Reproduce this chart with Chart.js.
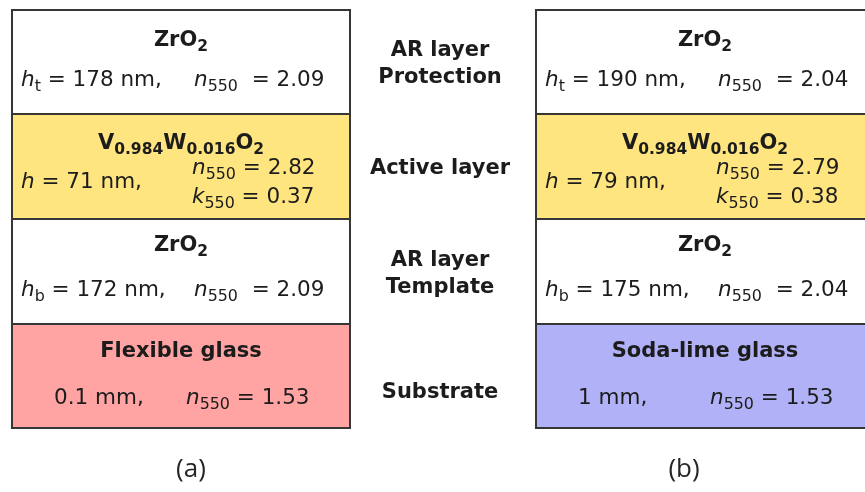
<!DOCTYPE html>
<html>
<head>
<meta charset="utf-8">
<script src="https://cdn.jsdelivr.net/npm/chart.js@4.4.1/dist/chart.umd.min.js"></script>
<style>
  html, body { margin: 0; padding: 0; background: #ffffff; }
  #wrap { width: 865px; height: 492px; position: relative; }
</style>
</head>
<body>
<div id="wrap"><canvas id="stack"></canvas></div>
<script>
// Two thin-film stacks (a) and (b); the middle slot carries the layer roles.
const categories = ['(a)', '', '(b)'];
const panelLabels = ['(a)', '(b)'];

// Layers listed bottom to top; each layer is drawn as one equal-height block.
const layerKeys = ['substrate', 'template', 'active', 'protection'];
const substrateBlock  = [1, null, 1];
const templateBlock   = [1, null, 1];
const activeBlock     = [1, null, 1];
const protectionBlock = [1, null, 1];

const layerRoles = [['', 'Substrate'], ['AR layer', 'Template'], ['Active layer'], ['AR layer', 'Protection']];

const materialA = ['Flexible glass', 'ZrO_{2}', 'V_{0.984}W_{0.016}O_{2}', 'ZrO_{2}'];
const materialB = ['Soda-lime glass', 'ZrO_{2}', 'V_{0.984}W_{0.016}O_{2}', 'ZrO_{2}'];
const thicknessSymbol = ['', '*h*_{b}', '*h*', '*h*_{t}'];
const thicknessA = ['0.1 mm', '172 nm', '71 nm', '178 nm'];
const thicknessB = ['1 mm', '175 nm', '79 nm', '190 nm'];
const n550A = [1.53, 2.09, 2.82, 2.09];
const n550B = [1.53, 2.04, 2.79, 2.04];
const k550A = [null, null, 0.37, null];
const k550B = [null, null, 0.38, null];

const fillColors = {
  substrate: ['#ffa3a3', '#b1b1f7'],
  template: ['#ffffff', '#ffffff'],
  active: ['#fee580', '#fee580'],
  protection: ['#ffffff', '#ffffff']
};

const FONT = "'DejaVu Sans', Verdana, sans-serif";
const INK = '#1c1c1c';
const BODY = 21.5;   // regular text size
const HEAD = 21;     // bold text size

// Parse a tiny markup: *italic*, _{subscript}
function parseRich(str) {
  const parts = [];
  let i = 0, italic = false, buf = '';
  const push = () => { if (buf) { parts.push({ t: buf, italic, sub: false }); buf = ''; } };
  while (i < str.length) {
    const c = str[i];
    if (c === '*') { push(); italic = !italic; i++; continue; }
    if (c === '_' && str[i + 1] === '{') {
      push();
      const end = str.indexOf('}', i);
      parts.push({ t: str.slice(i + 2, end), italic: false, sub: true });
      i = end + 1; continue;
    }
    buf += c; i++;
  }
  push();
  return parts;
}

function fontFor(p, size, bold) {
  const s = p.sub ? size * 0.74 : size;
  return (p.italic ? 'italic ' : '') + (bold ? 'bold ' : '') + s.toFixed(1) + 'px ' + FONT;
}

function richWidth(ctx, parts, size, bold) {
  let w = 0;
  parts.forEach(p => { ctx.font = fontFor(p, size, bold); w += ctx.measureText(p.t).width; });
  return w;
}

// Draw rich text; y is the visual middle of the capitals.
function drawRich(ctx, str, x, y, size, bold, align) {
  const parts = parseRich(str);
  let cx = x;
  if (align === 'center') cx = x - richWidth(ctx, parts, size, bold) / 2;
  const base = y + size * 0.36;
  ctx.textBaseline = 'alphabetic';
  ctx.textAlign = 'left';
  ctx.fillStyle = INK;
  parts.forEach(p => {
    ctx.font = fontFor(p, size, bold);
    ctx.fillText(p.t, cx, p.sub ? base + size * 0.24 : base);
    cx += ctx.measureText(p.t).width;
  });
}

const layerTextPlugin = {
  id: 'layerText',
  afterDatasetsDraw(chart) {
    const ctx = chart.ctx;
    const xs = chart.scales.x;
    ctx.save();
    const panels = [
      { idx: 0, mat: materialA, th: thicknessA, n: n550A, k: k550A },
      { idx: 2, mat: materialB, th: thicknessB, n: n550B, k: k550B }
    ];
    layerKeys.forEach((key, li) => {
      const meta = chart.getDatasetMeta(li);
      panels.forEach(pn => {
        const el = meta.data[pn.idx];
        const top = Math.min(el.y, el.base), h = Math.abs(el.base - el.y);
        const left = el.x - el.width / 2;
        const sym = thicknessSymbol[li];
        const nTxt = '*n*_{550}' + (key === 'substrate' || key === 'active' ? ' = ' : '  = ') + pn.n[li].toFixed(2);
        if (key === 'active') {
          drawRich(ctx, pn.mat[li], el.x, top + h * 0.26, HEAD, true, 'center');
          drawRich(ctx, sym + ' = ' + pn.th[li] + ',', left + 10, top + h * 0.63, BODY, false, 'left');
          drawRich(ctx, nTxt, left + 181, top + h * 0.50, BODY, false, 'left');
          drawRich(ctx, '*k*_{550} = ' + pn.k[li].toFixed(2), left + 181, top + h * 0.77, BODY, false, 'left');
        } else if (key === 'substrate') {
          drawRich(ctx, pn.mat[li], el.x, top + h * 0.24, HEAD, true, 'center');
          drawRich(ctx, pn.th[li] + ',', left + 43, top + h * 0.69, BODY, false, 'left');
          drawRich(ctx, nTxt, left + 175, top + h * 0.69, BODY, false, 'left');
        } else {
          const tpos = key === 'template' ? 0.23 : 0.28;
          drawRich(ctx, pn.mat[li], el.x, top + h * tpos, HEAD, true, 'center');
          drawRich(ctx, sym + ' = ' + pn.th[li] + ',', left + 10, top + h * 0.66, BODY, false, 'left');
          drawRich(ctx, nTxt, left + 183, top + h * 0.66, BODY, false, 'left');
        }
      });
      // role labels in the middle slot
      const mid = xs.getPixelForValue(1);
      const ref = meta.data[0];
      const cy = (ref.y + ref.base) / 2;
      const lines = layerRoles[li];
      const lh = 27;
      lines.forEach((ln, j) => {
        if (ln) drawRich(ctx, ln, mid - 3, cy + (j - (lines.length - 1) / 2) * lh, HEAD, true, 'center');
      });
    });
    // panel captions under the stacks
    const bottom = chart.chartArea.bottom;
    ctx.font = "26px 'Open Sans', sans-serif";
    ctx.fillStyle = '#262626';
    ctx.textAlign = 'center';
    ctx.textBaseline = 'middle';
    ctx.fillText(panelLabels[0], xs.getPixelForValue(0) + 10, bottom + 41);
    ctx.fillText(panelLabels[1], xs.getPixelForValue(2) - 21, bottom + 41);
    ctx.restore();
  }
};

const seriesData = { substrate: substrateBlock, template: templateBlock, active: activeBlock, protection: protectionBlock };
const datasets = layerKeys.map((key, li) => ({
  label: key,
  data: seriesData[key],
  backgroundColor: (c) => fillColors[key][c.dataIndex === 0 ? 0 : 1],
  borderColor: '#363636',
  borderWidth: {
    left: 2, right: 2,
    top: li === layerKeys.length - 1 ? 2 : 1,
    bottom: li === 0 ? 2 : 1
  },
  borderSkipped: false,
  barPercentage: 340 / 262,
  categoryPercentage: 1,
  clip: false
}));

new Chart(document.getElementById('stack'), {
  type: 'bar',
  data: { labels: categories, datasets },
  options: {
    responsive: true,
    maintainAspectRatio: false,
    animation: false,
    layout: { padding: { left: 50, right: 29, top: 9, bottom: 63 } },
    plugins: { legend: { display: false }, tooltip: { enabled: false } },
    scales: {
      x: { display: false, stacked: true },
      y: { display: false, stacked: true, min: 0, max: 4 }
    }
  },
  plugins: [layerTextPlugin]
});
</script>
</body>
</html>
